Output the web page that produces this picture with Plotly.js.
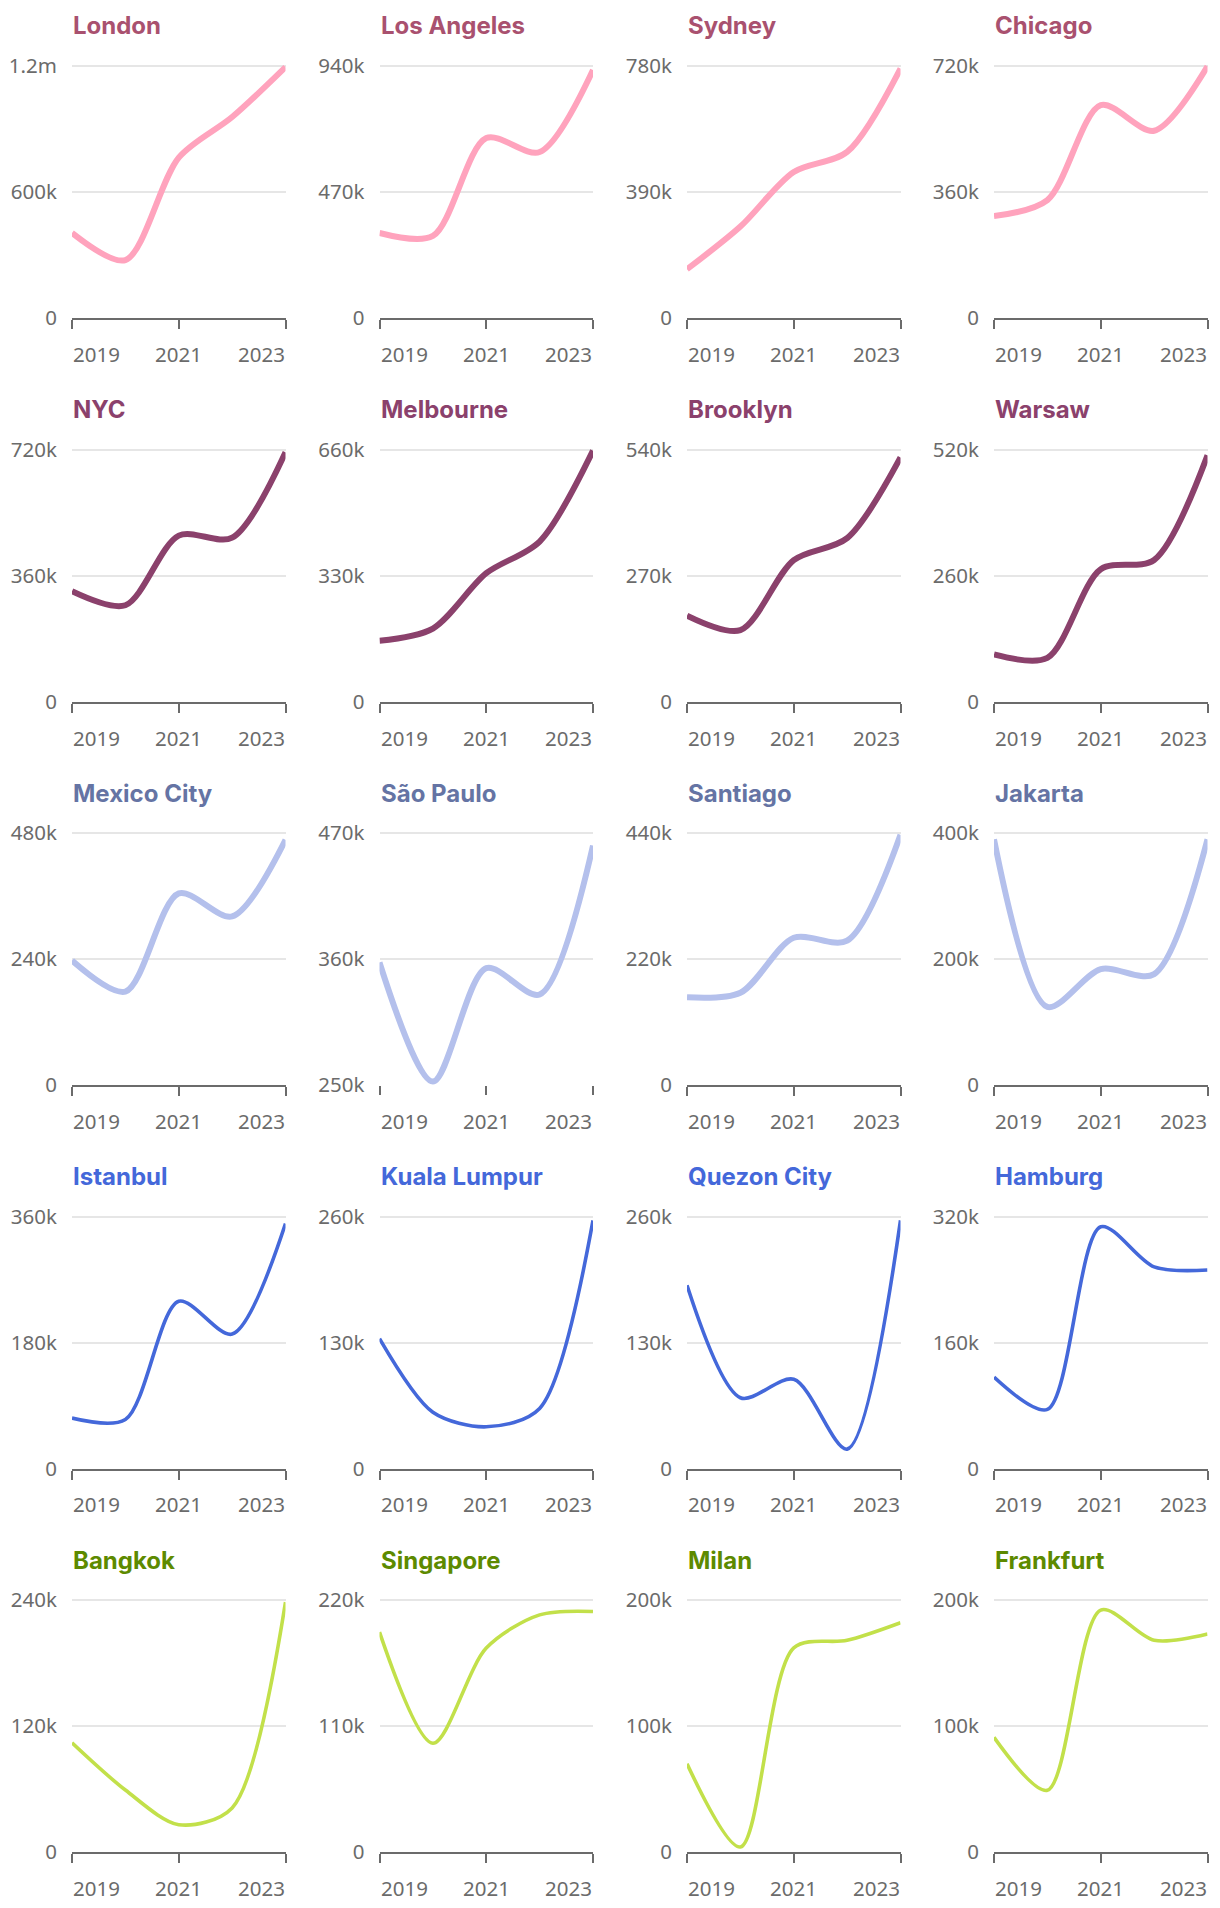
<!DOCTYPE html>
<html>
<head>
<meta charset="utf-8">
<script src="https://cdn.plot.ly/plotly-3.0.1.min.js"></script>
<style>
html, body { margin: 0; padding: 0; background: #ffffff; }
#chart { width: 1220px; height: 1908px; }
</style>
</head>
<body>
<div id="chart"></div>
<script>
// ---------- DATA ----------
const years = [2019, 2020, 2021, 2022, 2023];
const xTickYears = [2019, 2021, 2023];
const xTickLabels = ['2019', '2021', '2023'];

const cities = [
  'London', 'Los Angeles', 'Sydney', 'Chicago',
  'NYC', 'Melbourne', 'Brooklyn', 'Warsaw',
  'Mexico City', 'São Paulo', 'Santiago', 'Jakarta',
  'Istanbul', 'Kuala Lumpur', 'Quezon City', 'Hamburg',
  'Bangkok', 'Singapore', 'Milan', 'Frankfurt'
];

const london      = [405000, 276000, 764000, 957000, 1195000];
const losAngeles  = [317000, 306000, 671000, 619000, 925000];
const sydney      = [151000, 283000, 452000, 514000, 772000];
const chicago     = [291000, 337000, 608000, 535000, 719000];
const nyc         = [315000, 275000, 474000, 468000, 712000];
const melbourne   = [159000, 191000, 336000, 419000, 657000];
const brooklyn    = [184000, 153000, 303000, 350000, 523000];
const warsaw      = [97000, 90000, 273000, 292000, 508000];
const mexicoCity  = [237000, 178000, 365000, 321000, 467000];
const saoPaulo    = [357000, 253000, 352000, 329000, 459000];
const santiago    = [153000, 161000, 257000, 252000, 437000];
const jakarta     = [390000, 124000, 184000, 176000, 390000];
const istanbul    = [72000, 70000, 239000, 192000, 350000];
const kualaLumpur = [134000, 58000, 43000, 62000, 256000];
const quezonCity  = [189000, 73000, 92000, 20000, 256000];
const hamburg     = [116000, 75000, 307000, 256000, 252000];
const bangkok     = [104000, 59000, 26000, 42000, 238000];
const singapore   = [192000, 95000, 178000, 207000, 210000];
const milan       = [70000, 4000, 162000, 168000, 182000];
const frankfurt   = [91000, 49000, 192000, 168000, 173000];

const cityValues = [
  london, losAngeles, sydney, chicago,
  nyc, melbourne, brooklyn, warsaw,
  mexicoCity, saoPaulo, santiago, jakarta,
  istanbul, kualaLumpur, quezonCity, hamburg,
  bangkok, singapore, milan, frankfurt
];

const yTickValues = [
  [0, 600000, 1200000], [0, 470000, 940000], [0, 390000, 780000], [0, 360000, 720000],
  [0, 360000, 720000], [0, 330000, 660000], [0, 270000, 540000], [0, 260000, 520000],
  [0, 240000, 480000], [250000, 360000, 470000], [0, 220000, 440000], [0, 200000, 400000],
  [0, 180000, 360000], [0, 130000, 260000], [0, 130000, 260000], [0, 160000, 320000],
  [0, 120000, 240000], [0, 110000, 220000], [0, 100000, 200000], [0, 100000, 200000]
];
const yTickLabels = [
  ['0', '600k', '1.2m'], ['0', '470k', '940k'], ['0', '390k', '780k'], ['0', '360k', '720k'],
  ['0', '360k', '720k'], ['0', '330k', '660k'], ['0', '270k', '540k'], ['0', '260k', '520k'],
  ['0', '240k', '480k'], ['250k', '360k', '470k'], ['0', '220k', '440k'], ['0', '200k', '400k'],
  ['0', '180k', '360k'], ['0', '130k', '260k'], ['0', '130k', '260k'], ['0', '160k', '320k'],
  ['0', '120k', '240k'], ['0', '110k', '220k'], ['0', '100k', '200k'], ['0', '100k', '200k']
];

const rowLineColors  = ['#ffa3bd', '#8b416c', '#b4c0ec', '#4468da', '#c2e04a'];
const rowTitleColors = ['#a9516f', '#8b416c', '#6574a4', '#4468da', '#5d8a00'];
const rowLineWidths  = [6, 6, 6, 3.6, 3.6];

// ---------- LAYOUT GEOMETRY ----------
const W = 1220, H = 1908;
const colLeft = [72, 379.5, 687, 994];
const plotW = 213.5;
const rowTop = [66, 449.5, 833, 1216.5, 1600];
const plotH = 252;
const padTop = 3;
const axisGrey = '#6b6b6b';

const traces = [];
const layout = {
  width: W, height: H,
  margin: {l: 0, r: 0, t: 0, b: 0},
  paper_bgcolor: '#ffffff',
  plot_bgcolor: 'rgba(0,0,0,0)',
  showlegend: false,
  annotations: [],
  font: {family: 'Noto Sans, sans-serif', color: axisGrey}
};

cities.forEach((city, i) => {
  const row = Math.floor(i / 4), col = i % 4;
  const id = i === 0 ? '' : String(i + 1);
  const xa = 'xaxis' + id, ya = 'yaxis' + id;
  const ticks = yTickValues[i];
  const lo = ticks[0], hi = ticks[ticks.length - 1];
  const hiPad = hi + (hi - lo) * padTop / plotH;

  const left = colLeft[col] / W;
  const right = (colLeft[col] + plotW) / W;
  const bottomPx = rowTop[row] + plotH;
  const topPx = rowTop[row] - padTop;

  layout[xa] = {
    domain: [left, right],
    anchor: 'y' + id,
    range: [years[0], years[years.length - 1]],
    tickvals: xTickYears,
    ticks: 'outside', ticklen: 9, tickwidth: 2, tickcolor: axisGrey,
    showticklabels: false,
    showgrid: false, zeroline: false,
    showline: lo === 0, linecolor: axisGrey, linewidth: 2,
    fixedrange: true
  };
  layout[ya] = {
    domain: [1 - bottomPx / H, 1 - topPx / H],
    anchor: 'x' + id,
    range: [lo, hiPad],
    tickvals: ticks,
    ticktext: yTickLabels[i],
    ticks: 'outside', ticklen: 10, tickcolor: 'rgba(0,0,0,0)',
    tickfont: {family: 'Noto Sans, sans-serif', size: 20.5, color: axisGrey},
    showgrid: true, gridcolor: '#e6e6e6', gridwidth: 2,
    zeroline: false, showline: false,
    fixedrange: true
  };

  traces.push({
    type: 'scatter', mode: 'lines',
    x: years, y: cityValues[i],
    xaxis: 'x' + id, yaxis: 'y' + id,
    line: {color: rowLineColors[row], width: rowLineWidths[row], shape: 'spline', smoothing: 0.85},
    hoverinfo: 'skip'
  });

  // panel title
  layout.annotations.push({
    text: '<b>' + city + '</b>',
    xref: 'paper', yref: 'paper',
    x: colLeft[col] / W, y: 1 - (rowTop[row] - 40) / H,
    xanchor: 'left', yanchor: 'middle',
    showarrow: false,
    font: {family: 'Inter, Noto Sans, sans-serif', size: 24, color: rowTitleColors[row]},
    borderpad: 0
  });

  // x tick labels (edge labels kept inside the axis span)
  xTickYears.forEach((yr, j) => {
    layout.annotations.push({
      text: xTickLabels[j],
      xref: 'x' + id, yref: 'y' + id + ' domain',
      x: yr, y: 0, yshift: -36,
      xanchor: j === 0 ? 'left' : (j === xTickYears.length - 1 ? 'right' : 'center'),
      yanchor: 'middle',
      showarrow: false,
      borderpad: 0,
      font: {family: 'Noto Sans, sans-serif', size: 20.5, color: axisGrey}
    });
  });
});

Plotly.newPlot('chart', traces, layout, {staticPlot: true, displayModeBar: false});
</script>
</body>
</html>
